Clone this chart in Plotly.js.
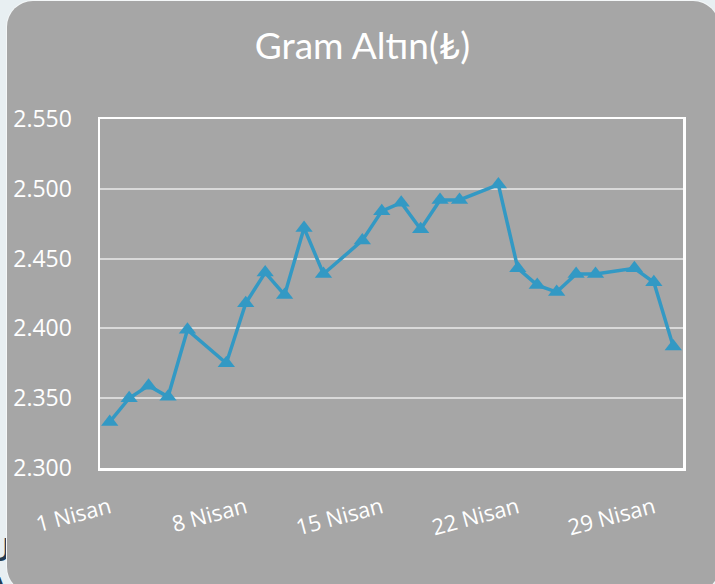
<!DOCTYPE html>
<html>
<head>
<meta charset="utf-8">
<script src="https://cdn.plot.ly/plotly-3.0.1.min.js"></script>
<style>
  html, body { margin: 0; padding: 0; width: 715px; height: 584px; overflow: hidden; background: #e8eff2; }
  #behind { position: absolute; left: -13px; top: 529px; font-family: "Open Sans", sans-serif; font-weight: 600; font-size: 33px; line-height: 39px; color: #243b53; }
  #card { position: absolute; left: 7px; top: 1px; width: 712px; height: 592px; background: #a6a6a6; border-radius: 26px; box-shadow: 0 0 0 1px #f4f7f8; }
  #chart { position: absolute; left: 0; top: 0; width: 715px; height: 584px; }
</style>
</head>
<body>
<div id="behind">U<br>A</div>
<div id="card"></div>
<div id="chart"></div>
<script>
const dates = ["2024-04-01","2024-04-02","2024-04-03","2024-04-04","2024-04-05",
  "2024-04-07","2024-04-08","2024-04-09","2024-04-10","2024-04-11","2024-04-12",
  "2024-04-14","2024-04-15","2024-04-16","2024-04-17","2024-04-18","2024-04-19",
  "2024-04-21","2024-04-22","2024-04-23","2024-04-24","2024-04-25","2024-04-26",
  "2024-04-28","2024-04-29","2024-04-30"];
const prices = [2333, 2350, 2359, 2351, 2399,
  2375, 2418, 2440, 2424, 2472, 2439,
  2463, 2484, 2490, 2471, 2492, 2492,
  2503, 2443, 2431, 2426, 2439, 2439,
  2443, 2433, 2387];
const tickDates = ["2024-04-01","2024-04-08","2024-04-15","2024-04-22","2024-04-29"];
const tickLabels = ["1 Nisan","8 Nisan","15 Nisan","22 Nisan","29 Nisan"];
const yTicks = [2300, 2350, 2400, 2450, 2500, 2550];
const chartTitle = "Gram Altın(₺)";

const trace = {
  x: dates, y: prices, type: "scatter", mode: "lines+markers",
  line: { color: "#3399c4", width: 3.5 },
  marker: { symbol: "triangle-up", size: 15, color: "#3399c4" },
  hoverinfo: "x+y"
};

const layout = {
  width: 715, height: 584,
  paper_bgcolor: "rgba(0,0,0,0)", plot_bgcolor: "rgba(0,0,0,0)",
  margin: { l: 100, r: 32, t: 119, b: 116 },
  separators: ",.",
  showlegend: false,
  title: { text: chartTitle, x: 0.507, xanchor: "center", y: 0.921, yanchor: "middle",
    font: { family: "Lato, 'Open Sans', sans-serif", size: 37, color: "#ffffff" } },
  xaxis: {
    type: "date", range: ["2024-03-31 12:00", "2024-04-30 12:00"],
    tickvals: tickDates, ticktext: tickLabels, tickangle: -15,
    showgrid: false, zeroline: false,
    showline: true, linecolor: "#ffffff", linewidth: 2.5, mirror: true,
    ticks: "", ticklabelstandoff: 16,
    tickfont: { family: "'Open Sans', sans-serif", size: 22, color: "#ffffff" }
  },
  yaxis: {
    range: [2300, 2550], tickvals: yTicks, tickformat: ",d",
    showgrid: true, gridcolor: "#d9d9d9", gridwidth: 2,
    zeroline: false, showline: true, linecolor: "#ffffff", linewidth: 2.5, mirror: true,
    ticks: "", ticklabelstandoff: 21,
    tickfont: { family: "'Open Sans', sans-serif", size: 23, color: "#ffffff" }
  }
};

Plotly.newPlot("chart", [trace], layout, { displayModeBar: false, staticPlot: true });
</script>
</body>
</html>
